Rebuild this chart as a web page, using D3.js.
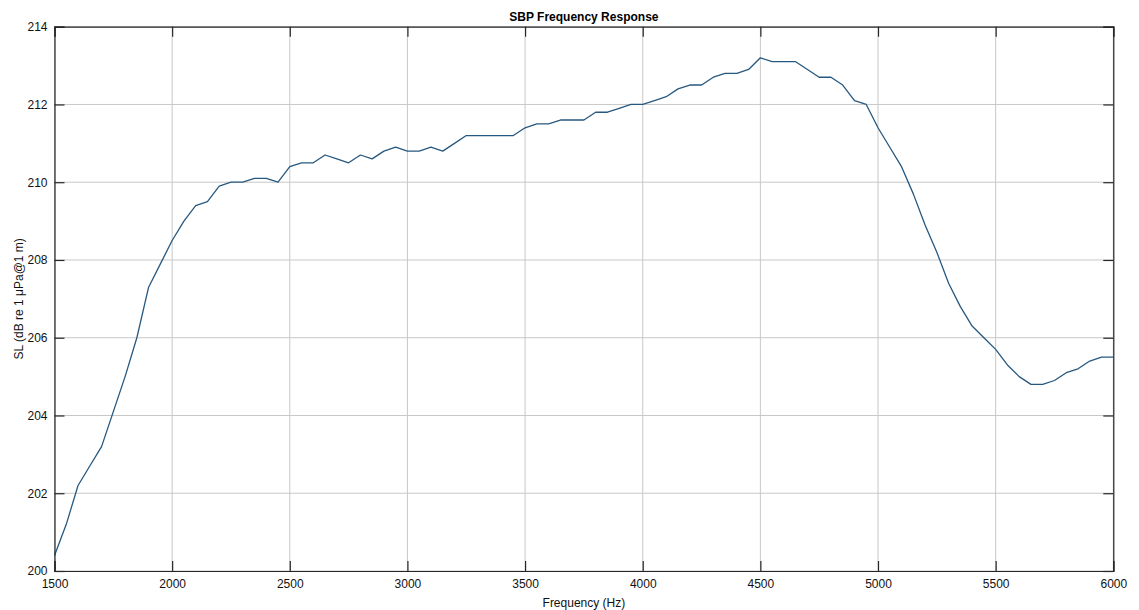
<!DOCTYPE html>
<html>
<head>
<meta charset="utf-8">
<script src="https://cdn.jsdelivr.net/npm/d3@7"></script>
<style>
  html, body { margin: 0; padding: 0; background: #fff; }
  svg { display: block; font-family: "Liberation Sans", Arial, sans-serif; }
</style>
</head>
<body>
<svg id="chart" width="1139" height="610"></svg>
<script>
// frequency steps (Hz)
const freqs = [
  1500, 1550, 1600, 1650, 1700, 1750, 1800, 1850, 1900, 1950,
  2000, 2050, 2100, 2150, 2200, 2250, 2300, 2350, 2400, 2450,
  2500, 2550, 2600, 2650, 2700, 2750, 2800, 2850, 2900, 2950,
  3000, 3050, 3100, 3150, 3200, 3250, 3300, 3350, 3400, 3450,
  3500, 3550, 3600, 3650, 3700, 3750, 3800, 3850, 3900, 3950,
  4000, 4050, 4100, 4150, 4200, 4250, 4300, 4350, 4400, 4450,
  4500, 4550, 4600, 4650, 4700, 4750, 4800, 4850, 4900, 4950,
  5000, 5050, 5100, 5150, 5200, 5250, 5300, 5350, 5400, 5450,
  5500, 5550, 5600, 5650, 5700, 5750, 5800, 5850, 5900, 5950,
  6000
];
// source level, dB re 1 uPa @ 1 m
const slVals = [
  200.4, 201.2, 202.2, 202.7, 203.2, 204.1, 205.0, 206.0, 207.3, 207.9,
  208.5, 209.0, 209.4, 209.5, 209.9, 210.0, 210.0, 210.1, 210.1, 210.0,
  210.4, 210.5, 210.5, 210.7, 210.6, 210.5, 210.7, 210.6, 210.8, 210.9,
  210.8, 210.8, 210.9, 210.8, 211.0, 211.2, 211.2, 211.2, 211.2, 211.2,
  211.4, 211.5, 211.5, 211.6, 211.6, 211.6, 211.8, 211.8, 211.9, 212.0,
  212.0, 212.1, 212.2, 212.4, 212.5, 212.5, 212.7, 212.8, 212.8, 212.9,
  213.2, 213.1, 213.1, 213.1, 212.9, 212.7, 212.7, 212.5, 212.1, 212.0,
  211.4, 210.9, 210.4, 209.7, 208.9, 208.2, 207.4, 206.8, 206.3, 206.0,
  205.7, 205.3, 205.0, 204.8, 204.8, 204.9, 205.1, 205.2, 205.4, 205.5,
  205.5
];
const xTicks = [1500, 2000, 2500, 3000, 3500, 4000, 4500, 5000, 5500, 6000];
const yTicks = [200, 202, 204, 206, 208, 210, 212, 214];

const ma = { top: 26.7, right: 25.7, bottom: 39, left: 54.5 };
const sv = d3.select('#chart');
const wi = 1139 - ma.left - ma.right;
const he = 610 - ma.top - ma.bottom;
const gr = sv.append('g').attr('transform', `translate(${ma.left},${ma.top})`);

const xs = d3.scaleLinear().domain([1500, 6000]).range([0, wi]);
const ys = d3.scaleLinear().domain([200, 214]).range([he, 0]);

// grid
gr.append('g').selectAll('line').data(xTicks).enter().append('line')
  .attr('x1', d => xs(d)).attr('x2', d => xs(d))
  .attr('y1', 0).attr('y2', he)
  .attr('stroke', '#c8c8c8').attr('stroke-width', 1);
gr.append('g').selectAll('line').data(yTicks).enter().append('line')
  .attr('x1', 0).attr('x2', wi)
  .attr('y1', d => ys(d)).attr('y2', d => ys(d))
  .attr('stroke', '#c8c8c8').attr('stroke-width', 1);

// data line
const pts = freqs.map((f, i) => ({ f: f, v: slVals[i] }));
gr.append('path')
  .datum(pts)
  .attr('fill', 'none')
  .attr('stroke', '#27587f')
  .attr('stroke-width', 1.3)
  .attr('stroke-linejoin', 'round')
  .attr('d', d3.line().x(d => xs(d.f)).y(d => ys(d.v)));

// axes, inward ticks on all four sides
const tl = 10;
gr.append('g').attr('transform', `translate(0,${he})`)
  .call(d3.axisBottom(xs).tickValues(xTicks).tickSize(-tl).tickPadding(8).tickFormat(d3.format('d')));
gr.append('g')
  .call(d3.axisTop(xs).tickValues(xTicks).tickSize(-tl).tickFormat(''));
gr.append('g')
  .call(d3.axisLeft(ys).tickValues(yTicks).tickSize(-tl).tickPadding(7).tickFormat(d3.format('d')));
gr.append('g').attr('transform', `translate(${wi},0)`)
  .call(d3.axisRight(ys).tickValues(yTicks).tickSize(-tl).tickFormat(''));

gr.selectAll('.domain').attr('stroke', '#262626').attr('stroke-width', 1.2);
gr.selectAll('.tick line').attr('stroke', '#262626').attr('stroke-width', 1.2);
gr.selectAll('.tick text')
  .attr('fill', '#111')
  .style('font-size', '12px')
  .style('font-family', '"Liberation Sans", Arial, sans-serif');

// titles
sv.append('text')
  .attr('x', ma.left + wi / 2).attr('y', 21)
  .attr('text-anchor', 'middle')
  .style('font-size', '12px').style('font-weight', 'bold').attr('fill', '#000')
  .text('SBP Frequency Response');

sv.append('text')
  .attr('x', ma.left + wi / 2).attr('y', 607)
  .attr('text-anchor', 'middle')
  .style('font-size', '12px').attr('fill', '#111')
  .text('Frequency (Hz)');

sv.append('text')
  .attr('transform', `translate(23,${ma.top + he / 2}) rotate(-90)`)
  .attr('text-anchor', 'middle')
  .style('font-size', '12px').attr('fill', '#111')
  .text('SL (dB re 1 μPa@1 m)');
</script>
</body>
</html>
